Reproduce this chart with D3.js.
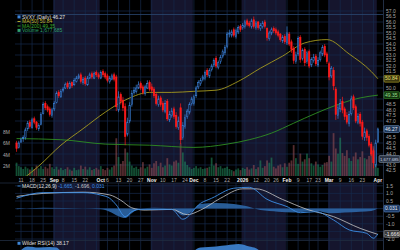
<!DOCTYPE html>
<html>
<head>
<meta charset="utf-8">
<script src="https://cdn.jsdelivr.net/npm/d3@7"></script>
<style>
  html, body { margin: 0; padding: 0; background: #000; overflow: hidden; }
  svg { display: block; font-family: 'Liberation Sans', Arial, sans-serif; }
</style>
</head>
<body>
<div id="chart"></div>
<script>
// trading calendar
const firstDay = '2025-08-07'
const lastDay = '2026-04-01'
const holidays = ['2025-09-01', '2025-11-27', '2025-12-25', '2026-01-01', '2026-01-19', '2026-02-16']

const tickDates = ['2025-08-11', '2025-08-18', '2025-08-25', '2025-09-02', '2025-09-08', '2025-09-15', '2025-09-22',
  '2025-10-01', '2025-10-06', '2025-10-13', '2025-10-20', '2025-10-27', '2025-11-03', '2025-11-10', '2025-11-17',
  '2025-11-24', '2025-12-01', '2025-12-08', '2025-12-15', '2025-12-22', '2026-01-02', '2026-01-12', '2026-01-20',
  '2026-01-26', '2026-02-02', '2026-02-09', '2026-02-17', '2026-02-23', '2026-03-02', '2026-03-09', '2026-03-16',
  '2026-03-23', '2026-04-01']
const tickLabels = ['11', '18', '25', 'Sep', '8', '15', '22', 'Oct', '6', '13', '20', '27', 'Nov', '10', '17',
  '24', 'Dec', '8', '15', '22', '2026', '12', '20', '26', 'Feb', '9', '17', '23', 'Mar', '9', '16', '23', 'Apr']
const boldLabels = ['Sep', 'Oct', 'Nov', 'Dec', '2026', 'Feb', 'Mar', 'Apr']

// SVXY daily OHLC
const opens = [45.0, 44.6, 45.1, 45.5, 45.5, 46.3, 46.9, 46.4, 47.2, 46.9,
  46.3, 46.7, 47.7, 48.6, 48.3, 48.1, 47.5, 48.1, 48.7, 49.6,
  49.2, 49.8, 50.0, 50.4, 50.0, 50.5, 50.3, 50.6, 50.9, 51.2,
  50.5, 50.9, 50.3, 50.9, 51.3, 50.9, 51.4, 51.2, 50.9, 51.5,
  51.3, 51.1, 50.6, 50.8, 51.2, 51.0, 48.0, 49.4, 48.9, 48.3,
  45.8, 47.0, 48.5, 49.6, 49.7, 50.0, 50.4, 50.1, 49.5, 50.0,
  50.5, 50.1, 49.9, 49.4, 48.5, 49.1, 48.6, 47.9, 48.8, 47.1,
  47.5, 48.1, 47.5, 46.4, 48.2, 45.5, 46.5, 47.4, 47.8, 48.6,
  48.6, 49.3, 50.1, 50.4, 50.8, 50.9, 51.6, 51.1, 51.7, 52.1,
  52.7, 51.9, 52.4, 52.9, 53.2, 53.8, 54.9, 54.8, 55.3, 54.7,
  55.1, 55.6, 55.5, 55.6, 56.1, 55.9, 55.6, 56.2, 55.5, 56.0,
  55.4, 55.6, 56.0, 55.4, 54.5, 55.0, 55.4, 55.3, 55.1, 54.9,
  54.3, 54.7, 54.1, 54.9, 54.2, 53.6, 52.4, 53.1, 54.6, 52.7,
  53.5, 52.4, 53.3, 52.1, 52.5, 52.9, 52.1, 52.6, 53.1, 53.8,
  53.1, 52.2, 51.1, 51.6, 49.9, 47.5, 48.1, 48.8, 48.1, 47.5,
  46.8, 47.7, 49.2, 48.3, 46.9, 47.6, 46.9, 45.5, 46.1, 45.6,
  44.9, 44.3, 43.0, 45.1]
const highs = [45.2, 45.2, 45.5, 45.7, 46.4, 47.0, 47.1, 47.3, 47.4, 47.0,
  46.8, 47.8, 48.7, 48.8, 48.5, 48.3, 48.2, 48.8, 49.7, 49.8,
  49.9, 50.1, 50.5, 50.6, 50.6, 50.6, 50.9, 51.1, 51.3, 51.4,
  51.0, 51.1, 51.1, 51.4, 51.5, 51.5, 51.6, 51.4, 51.6, 51.7,
  51.5, 51.3, 51.1, 51.3, 51.4, 51.2, 49.7, 49.6, 49.2, 48.6,
  47.3, 48.7, 49.8, 50.1, 50.3, 50.6, 50.6, 50.3, 50.3, 50.7,
  50.7, 50.4, 50.1, 49.6, 49.3, 49.3, 48.8, 48.9, 49.0, 47.9,
  48.2, 48.3, 47.8, 47.4, 48.6, 46.9, 47.6, 48.1, 48.7, 49.2,
  49.4, 50.2, 50.7, 50.9, 51.2, 51.6, 51.8, 51.8, 52.2, 52.7,
  52.9, 52.5, 53.0, 53.5, 53.9, 55.1, 55.3, 55.3, 55.5, 55.4,
  55.7, 55.8, 55.9, 56.2, 56.3, 56.1, 56.3, 56.5, 56.1, 56.1,
  55.9, 56.1, 56.2, 55.5, 55.2, 55.5, 55.6, 55.5, 55.3, 55.0,
  54.8, 54.9, 55.6, 55.1, 54.4, 53.8, 53.3, 54.7, 54.8, 53.6,
  53.7, 53.4, 53.5, 52.8, 53.1, 53.1, 52.8, 53.4, 53.9, 54.0,
  53.3, 52.4, 52.0, 51.9, 50.1, 48.5, 49.0, 49.2, 48.3, 47.8,
  47.9, 49.3, 49.4, 48.5, 47.7, 47.8, 47.1, 46.4, 46.3, 45.8,
  45.1, 44.5, 45.3, 46.4]
const lows = [44.2, 44.5, 45.0, 45.1, 45.3, 46.1, 46.3, 46.3, 46.7, 46.2,
  46.1, 46.6, 47.6, 48.0, 47.8, 47.4, 47.3, 47.9, 48.6, 49.1,
  49.1, 49.6, 49.9, 49.9, 49.9, 50.0, 50.2, 50.5, 50.8, 50.4,
  50.3, 50.2, 50.2, 50.8, 50.8, 50.8, 51.0, 50.8, 50.8, 51.0,
  50.8, 50.5, 50.4, 50.7, 50.6, 47.9, 47.8, 48.5, 47.9, 44.8,
  45.6, 46.8, 48.3, 49.4, 49.5, 49.9, 49.8, 49.4, 49.3, 49.9,
  49.7, 49.6, 49.1, 48.4, 48.3, 48.3, 47.8, 47.7, 47.0, 46.9,
  47.3, 47.2, 46.3, 46.2, 44.9, 45.3, 46.3, 47.2, 47.6, 48.4,
  48.4, 49.1, 49.9, 50.2, 50.6, 50.7, 51.0, 50.9, 51.5, 51.9,
  51.8, 51.7, 52.2, 52.7, 53.0, 53.6, 54.6, 54.6, 54.6, 54.5,
  54.9, 55.1, 55.3, 55.4, 55.6, 55.5, 55.4, 55.4, 55.3, 55.3,
  55.2, 55.4, 55.4, 54.3, 54.3, 54.8, 55.0, 54.8, 54.6, 54.2,
  54.1, 54.0, 53.9, 53.8, 53.2, 52.2, 52.2, 52.9, 52.3, 52.5,
  52.0, 52.2, 51.8, 51.9, 52.3, 52.0, 51.9, 52.4, 52.9, 52.8,
  52.2, 50.7, 50.9, 49.8, 47.1, 47.2, 47.8, 47.7, 47.1, 46.7,
  46.5, 47.5, 48.0, 46.8, 46.7, 46.5, 45.3, 45.2, 45.2, 44.6,
  43.8, 42.7, 42.8, 45.0]
const closes = [44.5, 45.0, 45.3, 45.4, 46.2, 46.8, 46.5, 47.1, 46.9, 46.4,
  46.6, 47.6, 48.5, 48.2, 48.0, 47.6, 48.0, 48.6, 49.5, 49.3,
  49.7, 49.9, 50.3, 50.1, 50.4, 50.2, 50.7, 50.9, 51.1, 50.6,
  50.8, 50.4, 50.9, 51.2, 51.0, 51.3, 51.2, 51.0, 51.4, 51.2,
  51.0, 50.7, 50.9, 51.1, 50.8, 48.3, 49.2, 48.8, 48.2, 45.6,
  46.9, 48.4, 49.5, 49.8, 50.0, 50.3, 50.0, 49.6, 50.1, 50.4,
  49.9, 49.8, 49.3, 48.6, 49.0, 48.5, 48.0, 48.6, 47.2, 47.6,
  47.9, 47.4, 46.5, 47.0, 45.3, 46.6, 47.3, 47.9, 48.5, 49.0,
  49.2, 50.0, 50.5, 50.7, 51.0, 51.4, 51.2, 51.6, 52.0, 52.5,
  52.0, 52.3, 52.8, 53.3, 53.7, 54.9, 55.0, 55.1, 54.8, 55.2,
  55.5, 55.3, 55.7, 56.0, 55.8, 55.7, 56.1, 55.6, 55.9, 55.5,
  55.7, 55.9, 55.6, 54.6, 55.0, 55.3, 55.2, 55.0, 54.8, 54.4,
  54.6, 54.2, 55.0, 54.0, 53.5, 52.5, 53.0, 54.5, 52.6, 53.4,
  52.3, 53.2, 52.0, 52.6, 52.8, 52.2, 52.5, 53.2, 53.7, 53.0,
  52.4, 51.0, 51.8, 50.2, 47.6, 48.2, 48.6, 48.0, 47.4, 46.9,
  47.6, 49.0, 48.2, 47.0, 47.4, 46.8, 45.6, 46.0, 45.5, 44.8,
  44.0, 43.2, 45.0, 46.27]
// volume, millions of shares
const volumes = [2.6, 2.0, 1.8, 1.5, 1.9, 1.6, 1.4, 1.8, 1.5, 2.1,
  1.6, 2.0, 1.5, 1.9, 1.6, 2.4, 1.8, 1.5, 1.9, 1.4,
  1.7, 1.3, 1.5, 1.8, 1.4, 1.2, 1.7, 1.3, 1.4, 2.1,
  1.5, 1.9, 1.4, 1.8, 1.3, 1.5, 1.7, 1.4, 2.0, 1.5,
  1.3, 1.7, 1.4, 1.8, 2.1, 6.9, 3.6, 2.4, 2.9, 5.1,
  4.4, 2.8, 2.1, 1.7, 1.9, 1.5, 1.8, 2.7, 1.6, 1.9,
  2.3, 1.7, 2.5, 2.9, 2.0, 2.6, 1.8, 2.1, 3.4, 2.3,
  2.1, 2.8, 3.0, 2.6, 6.0, 4.4, 2.8, 2.2, 1.8, 1.5,
  1.7, 2.0, 1.6, 1.8, 1.5, 1.6, 1.7, 1.9, 3.5, 2.1,
  2.5, 1.8, 2.0, 1.6, 1.7, 1.9, 1.5, 1.3, 1.1, 1.4,
  1.6, 1.3, 1.7, 1.5, 1.8, 1.4, 1.6, 2.2, 1.5, 1.8,
  3.0, 1.7, 2.0, 3.0, 2.6, 3.5, 1.9, 1.6, 2.1, 2.3,
  1.8, 2.5, 1.9, 2.6, 3.0, 5.7, 3.4, 2.4, 4.2, 2.8,
  3.2, 4.2, 3.4, 2.5, 2.1, 2.8, 2.3, 1.9, 2.2, 2.6,
  2.7, 3.8, 2.8, 7.8, 5.1, 4.2, 7.0, 4.3, 3.8, 4.8,
  3.4, 2.9, 3.7, 4.4, 3.2, 3.6, 4.6, 3.4, 3.2, 3.8,
  4.4, 5.5, 3.6, 1.7]

// moving averages (trading-day index, value)
const ma50Days = [0, 10, 20, 30, 40, 50, 60, 70, 80, 90, 100, 110, 120, 130, 140, 150, 160, 163]
const ma50 = [41.3, 42.9, 44.8, 46.3, 47.8, 49.0, 49.6, 49.6, 49.7, 49.8, 50.6, 51.8, 52.9, 54.1, 54.4, 53.1, 51.5, 50.84]
const ma200Days = [0, 20, 40, 60, 80, 95, 105, 115, 125, 135, 145, 155, 163]
const ma200 = [45.4, 45.3, 44.9, 44.8, 44.6, 44.9, 45.3, 45.9, 46.8, 47.7, 48.5, 49.1, 49.35]

// MACD(12,26,9)
const macdDays = [0, 12, 30, 38, 42, 45, 49, 52, 56, 70, 75, 83, 88, 98, 105, 113, 122, 128, 135, 143, 150, 158, 161, 163]
const macdVals = [0.68, 1.05, 1.05, 0.89, 0.68, 0.24, -0.53, -0.2, -0.05, -0.05, -0.7, 0.35, 0.68, 1.34, 1.4, 0.61, 0.13, -0.27, -0.2, -0.75, -1.4, -1.63, -1.95, -1.665]
const signalDays = [0, 12, 30, 42, 47, 52, 58, 70, 77, 83, 92, 102, 108, 120, 131, 143, 155, 163]
const signalVals = [0.8, 1.0, 1.08, 0.9, 0.55, 0.05, -0.1, -0.05, -0.4, -0.1, 0.68, 1.3, 1.3, 0.6, -0.05, -0.53, -1.3, -1.696]
const histDays = [0, 12, 30, 38, 42, 46, 49, 52, 56, 62, 70, 75, 79, 83, 90, 98, 104, 110, 118, 125, 135, 142, 148, 155, 160, 163]
const histVals = [-0.05, 0.05, 0.0, -0.05, -0.2, -0.5, -0.62, -0.3, 0.0, 0.05, 0.0, -0.45, -0.2, 0.3, 0.37, 0.3, 0.15, -0.1, -0.2, -0.25, -0.15, -0.3, -0.25, -0.2, -0.15, 0.031]

// Wilder RSI(14)
const rsiDays = [0, 3, 5, 10, 15, 18, 20, 25, 30, 35, 40, 45, 50, 55, 60, 65, 70, 75, 80, 83, 90, 95, 100, 105, 108, 110, 115, 120, 125, 130, 135, 140, 145, 150, 155, 160, 163]
const rsiVals = [60, 73, 76, 74, 75, 74, 69, 66, 68, 67, 66, 38, 36, 52, 50, 44, 40, 38, 68, 74, 76, 78, 80, 76, 73, 68, 60, 55, 45, 42, 46, 44, 30, 33, 31, 26, 38.17]

const priceTicks = d3.range(42.5, 57.01, 0.5)
const volumeTicks = [2, 4, 6, 8]
const macdTicks = [1.5, 1.0, 0.5, -0.5, -1.0, -1.5, -2.0]

const width = 400
const height = 250
const plotLeft = 15
const plotRight = 383
const mainTop = 0
const mainBottom = 176
const macdTop = 183
const macdBottom = 240
const rsiTop = 240.5

const fmt = d3.utcFormat('%Y-%m-%d')
const days = d3.utcDay.range(new Date(firstDay), d3.utcDay.offset(new Date(lastDay), 1))
  .filter(d => d.getUTCDay() !== 0 && d.getUTCDay() !== 6 && !holidays.includes(fmt(d)))
const dayIndex = new Map(days.map((d, i) => [fmt(d), i]))

const x = d3.scaleLinear().domain([-0.7, 165.3]).range([plotLeft, plotRight])
const y = d3.scaleLinear().domain([42.5, 50]).range([170.5, 88])
const yVol = d3.scaleLinear().domain([0, 8]).range([177.5, 132])
const yMacd = d3.scaleLinear().domain([0, 1.5]).range([208.6, 185.8])
const yRsi = d3.scaleLinear().domain([0, 100]).range([292, 232])
const step = x(1) - x(0)

const svg = d3.select('#chart')
  .append('svg')
  .attr('width', width)
  .attr('height', height)

svg.append('rect').attr('width', width).attr('height', height).attr('fill', '#000')

const defs = svg.append('defs')
defs.append('clipPath').attr('id', 'clip-main')
  .append('rect').attr('x', plotLeft).attr('y', mainTop).attr('width', plotRight - plotLeft).attr('height', mainBottom - mainTop)
defs.append('clipPath').attr('id', 'clip-macd')
  .append('rect').attr('x', plotLeft).attr('y', macdTop).attr('width', plotRight - plotLeft).attr('height', macdBottom - macdTop)
defs.append('clipPath').attr('id', 'clip-rsi')
  .append('rect').attr('x', plotLeft).attr('y', rsiTop).attr('width', plotRight - plotLeft).attr('height', height - rsiTop)

// month bands: every other month shaded navy
const monthStarts = []
days.forEach((d, i) => {
  if (i === 0 || d.getUTCMonth() !== days[i - 1].getUTCMonth()) monthStarts.push(i)
})
const bands = monthStarts.map((s, k) => ({
  x0: Math.max(plotLeft, x(s - 0.5)),
  x1: k < monthStarts.length - 1 ? x(monthStarts[k + 1] - 0.5) : plotRight,
  shaded: days[s].getUTCMonth() % 2 === 0
}))

// weekly grid lines, first trading day of each week
const weekStarts = days.map((d, i) => i).filter(i => i > 0 && d3.utcMonday.floor(days[i]) > days[i - 1])

function drawPanelBack(top, bottom) {
  const g = svg.append('g')
  g.selectAll('rect.band')
    .data(bands.filter(b => b.shaded))
    .enter()
    .append('rect')
    .attr('class', 'band')
    .attr('x', d => d.x0)
    .attr('width', d => d.x1 - d.x0)
    .attr('y', top)
    .attr('height', bottom - top)
    .attr('fill', '#15152d')
  g.selectAll('line.vgrid')
    .data(weekStarts)
    .enter()
    .append('line')
    .attr('class', 'vgrid')
    .attr('x1', d => x(d))
    .attr('x2', d => x(d))
    .attr('y1', top)
    .attr('y2', bottom)
    .attr('stroke', '#16294a')
    .attr('stroke-width', 0.7)
  return g
}

// right-edge value boxes (drawn later), their tick labels are hidden underneath
const boxes = [
  { y: y(ma50[ma50.length - 1]), label: '50.84', stroke: '#b5a82a', fill: '#3a3610', text: '#e8e070' },
  { y: y(ma200[ma200.length - 1]), label: '49.35', stroke: '#3a9a30', fill: '#12320f', text: '#9ee090' },
  { y: y(closes[closes.length - 1]), label: '46.27', stroke: '#7aa0d0', fill: '#1d3556', text: '#e0e8f4' },
  { y: 159, label: '1,677,685', stroke: '#8a9ab0', fill: '#2a3444', text: '#d0d8e4', wide: true },
  { y: yMacd(0), label: '0.031', stroke: '#5a8ac8', fill: '#1d3a66', text: '#e0e8f4' },
  { y: yMacd(macdVals[macdVals.length - 1]), label: '-1.666', stroke: '#a0a0a0', fill: '#3a3a3a', text: '#f0f0f0' }
]
const freeOfBoxes = yPos => boxes.every(b => Math.abs(b.y - yPos) > 4.5)

// ---- main panel ----
const mainBack = drawPanelBack(mainTop, mainBottom)
mainBack.selectAll('line.hgrid')
  .data(priceTicks.filter(v => v % 1 === 0))
  .enter()
  .append('line')
  .attr('x1', plotLeft)
  .attr('x2', plotRight)
  .attr('y1', d => y(d))
  .attr('y2', d => y(d))
  .attr('stroke', '#16294a')
  .attr('stroke-width', 0.7)
svg.append('line')
  .attr('x1', plotLeft).attr('x2', plotRight).attr('y1', 14.5).attr('y2', 14.5)
  .attr('stroke', '#2a4670').attr('stroke-width', 0.8)

const main = svg.append('g').attr('clip-path', 'url(#clip-main)')

// volume bars
main.selectAll('rect.vol')
  .data(volumes)
  .enter()
  .append('rect')
  .attr('class', 'vol')
  .attr('x', (d, i) => x(i) - step * 0.4)
  .attr('width', step * 0.8)
  .attr('y', d => yVol(d))
  .attr('height', d => yVol(0) - yVol(d))
  .attr('fill', (d, i) => i === 0 || closes[i] >= closes[i - 1] ? '#22905e' : '#9a5258')
  .attr('opacity', 0.55)

// moving averages
const maLine = d3.line().x(d => x(d[0])).y(d => y(d[1])).curve(d3.curveMonotoneX)
main.append('path')
  .datum(ma200Days.map((d, i) => [d, ma200[i]]))
  .attr('d', maLine)
  .attr('fill', 'none')
  .attr('stroke', '#2f8f22')
  .attr('stroke-width', 0.9)
main.append('path')
  .datum(ma50Days.map((d, i) => [d, ma50[i]]))
  .attr('d', maLine)
  .attr('fill', 'none')
  .attr('stroke', '#a59a1e')
  .attr('stroke-width', 0.9)

// hollow candles: colour from close vs previous close, fill when close < open
const candles = closes.map((c, i) => ({
  i: i,
  o: opens[i],
  h: highs[i],
  l: lows[i],
  c: c,
  up: i === 0 ? c >= opens[i] : c >= closes[i - 1]
}))
const candle = main.selectAll('g.candle')
  .data(candles)
  .enter()
  .append('g')
  .attr('class', 'candle')
candle.append('line')
  .attr('x1', d => x(d.i))
  .attr('x2', d => x(d.i))
  .attr('y1', d => y(d.h))
  .attr('y2', d => y(d.l))
  .attr('stroke', d => d.up ? '#3b84dc' : '#ff1b1b')
  .attr('stroke-width', 0.7)
candle.append('rect')
  .attr('x', d => x(d.i) - step * 0.3)
  .attr('width', step * 0.6)
  .attr('y', d => y(Math.max(d.o, d.c)))
  .attr('height', d => Math.max(0.6, Math.abs(y(d.o) - y(d.c))))
  .attr('fill', d => d.c < d.o ? (d.up ? '#3b84dc' : '#ff1b1b') : '#0b0b18')
  .attr('stroke', d => d.up ? '#3b84dc' : '#ff1b1b')
  .attr('stroke-width', 0.6)

// right price axis
svg.append('line')
  .attr('x1', plotRight + 0.5).attr('x2', plotRight + 0.5).attr('y1', 0).attr('y2', height)
  .attr('stroke', '#2a3a55').attr('stroke-width', 0.8)
svg.append('g')
  .selectAll('text')
  .data(priceTicks.filter(v => freeOfBoxes(y(v))))
  .enter()
  .append('text')
  .attr('x', 386)
  .attr('y', d => y(d) + 1.8)
  .attr('font-size', 5)
  .attr('fill', '#a8a8a8')
  .text(d => d.toFixed(1))

// left volume axis
svg.append('g')
  .selectAll('text')
  .data(volumeTicks)
  .enter()
  .append('text')
  .attr('x', 3)
  .attr('y', d => yVol(d) + 1.8)
  .attr('font-size', 5)
  .attr('fill', '#a8a8a8')
  .text(d => d + 'M')

// legend
const legend = svg.append('g').attr('font-size', 5)
const legendRows = [
  { label: 'SVXY (Daily) 46.27', color: '#e0e0e0', mark: '#3b84dc', square: true },
  { label: 'MA(50) 50.84', color: '#c8bb30', mark: '#c8bb30', square: false },
  { label: 'MA(200) 49.35', color: '#3ba82e', mark: '#3ba82e', square: false },
  { label: 'Volume 1,677,685', color: '#2fa070', mark: '#2fa070', square: true }
]
legendRows.forEach((r, k) => {
  const ly = 17 + k * 4.5
  if (r.square) {
    legend.append('rect').attr('x', 17.5).attr('y', ly - 1.6).attr('width', 3).attr('height', 3).attr('fill', r.mark)
  } else {
    legend.append('line').attr('x1', 17.5).attr('x2', 20.5).attr('y1', ly).attr('y2', ly)
      .attr('stroke', r.mark).attr('stroke-width', 0.9)
  }
  legend.append('text').attr('x', 22).attr('y', ly + 1.7).attr('fill', r.color).text(r.label)
})

// date labels
svg.append('g')
  .selectAll('text')
  .data(tickDates)
  .enter()
  .append('text')
  .attr('x', d => x(dayIndex.get(d)))
  .attr('y', 182)
  .attr('text-anchor', 'middle')
  .attr('font-size', 5)
  .attr('font-weight', (d, k) => boldLabels.includes(tickLabels[k]) ? 'bold' : 'normal')
  .attr('fill', (d, k) => boldLabels.includes(tickLabels[k]) ? '#f0f0f0' : '#a8a8a8')
  .text((d, k) => tickLabels[k])

// ---- MACD panel ----
const macdBack = drawPanelBack(macdTop, macdBottom)
macdBack.selectAll('line.hgrid')
  .data(macdTicks.concat([0]))
  .enter()
  .append('line')
  .attr('x1', plotLeft)
  .attr('x2', plotRight)
  .attr('y1', d => yMacd(d))
  .attr('y2', d => yMacd(d))
  .attr('stroke', '#16294a')
  .attr('stroke-width', 0.7)
svg.append('line')
  .attr('x1', 0).attr('x2', plotRight).attr('y1', macdTop).attr('y2', macdTop)
  .attr('stroke', '#2a3a55').attr('stroke-width', 0.6)

const macd = svg.append('g').attr('clip-path', 'url(#clip-macd)')
macd.append('path')
  .datum(histDays.map((d, i) => [d, histVals[i]]))
  .attr('d', d3.area().x(d => x(d[0])).y0(yMacd(0)).y1(d => yMacd(d[1])).curve(d3.curveMonotoneX))
  .attr('fill', '#2f6cb0')
  .attr('opacity', 0.85)
const macdLine = d3.line().x(d => x(d[0])).y(d => yMacd(d[1])).curve(d3.curveMonotoneX)
macd.append('path')
  .datum(signalDays.map((d, i) => [d, signalVals[i]]))
  .attr('d', macdLine)
  .attr('fill', 'none')
  .attr('stroke', '#c8c8c8')
  .attr('stroke-width', 0.8)
macd.append('path')
  .datum(macdDays.map((d, i) => [d, macdVals[i]]))
  .attr('d', macdLine)
  .attr('fill', 'none')
  .attr('stroke', '#3d8fe6')
  .attr('stroke-width', 0.9)

svg.append('g')
  .selectAll('text')
  .data(macdTicks.filter(v => freeOfBoxes(yMacd(v))))
  .enter()
  .append('text')
  .attr('x', 386)
  .attr('y', d => yMacd(d) + 1.8)
  .attr('font-size', 5)
  .attr('fill', '#a8a8a8')
  .text(d => d.toFixed(1))

const macdLegend = svg.append('text').attr('x', 22).attr('y', 187.7).attr('font-size', 5)
macdLegend.append('tspan').attr('fill', '#e0e0e0').text('MACD(12,26,9) ')
macdLegend.append('tspan').attr('fill', '#3d8fe6').text('-1.665, ')
macdLegend.append('tspan').attr('fill', '#c8c8c8').text('-1.696, ')
macdLegend.append('tspan').attr('fill', '#3d8fe6').text('0.031')
svg.append('line').attr('x1', 17.5).attr('x2', 20.5).attr('y1', 186).attr('y2', 186)
  .attr('stroke', '#3d8fe6').attr('stroke-width', 0.9)

// ---- RSI panel ----
drawPanelBack(rsiTop, height)
svg.append('line')
  .attr('x1', 0).attr('x2', plotRight).attr('y1', rsiTop).attr('y2', rsiTop)
  .attr('stroke', '#2a3a55').attr('stroke-width', 0.6)
svg.append('g').attr('clip-path', 'url(#clip-rsi)')
  .append('path')
  .datum(rsiDays.map((d, i) => [d, rsiVals[i]]))
  .attr('d', d3.area().x(d => x(d[0])).y0(height + 20).y1(d => yRsi(d[1])).curve(d3.curveMonotoneX))
  .attr('fill', '#3f86d6')
  .attr('opacity', 0.9)
svg.append('rect').attr('x', 17.5).attr('y', 241.8).attr('width', 3).attr('height', 3).attr('fill', '#3f86d6')
svg.append('text').attr('x', 22).attr('y', 244.5).attr('font-size', 5).attr('fill', '#e0e0e0')
  .text('Wilder RSI(14) 38.17')

// value boxes on the right edge
boxes.forEach(b => {
  const bx = b.wide ? 379 : 384
  const bw = b.wide ? 21 : 15.5
  svg.append('rect')
    .attr('x', bx).attr('y', b.y - 3.4).attr('width', bw).attr('height', 6.8)
    .attr('rx', 1)
    .attr('fill', b.fill).attr('stroke', b.stroke).attr('stroke-width', 0.6)
  svg.append('text')
    .attr('x', bx + 1).attr('y', b.y + 1.6)
    .attr('font-size', b.wide ? 4.2 : 5)
    .attr('fill', b.text)
    .text(b.label)
})
</script>
</body>
</html>
